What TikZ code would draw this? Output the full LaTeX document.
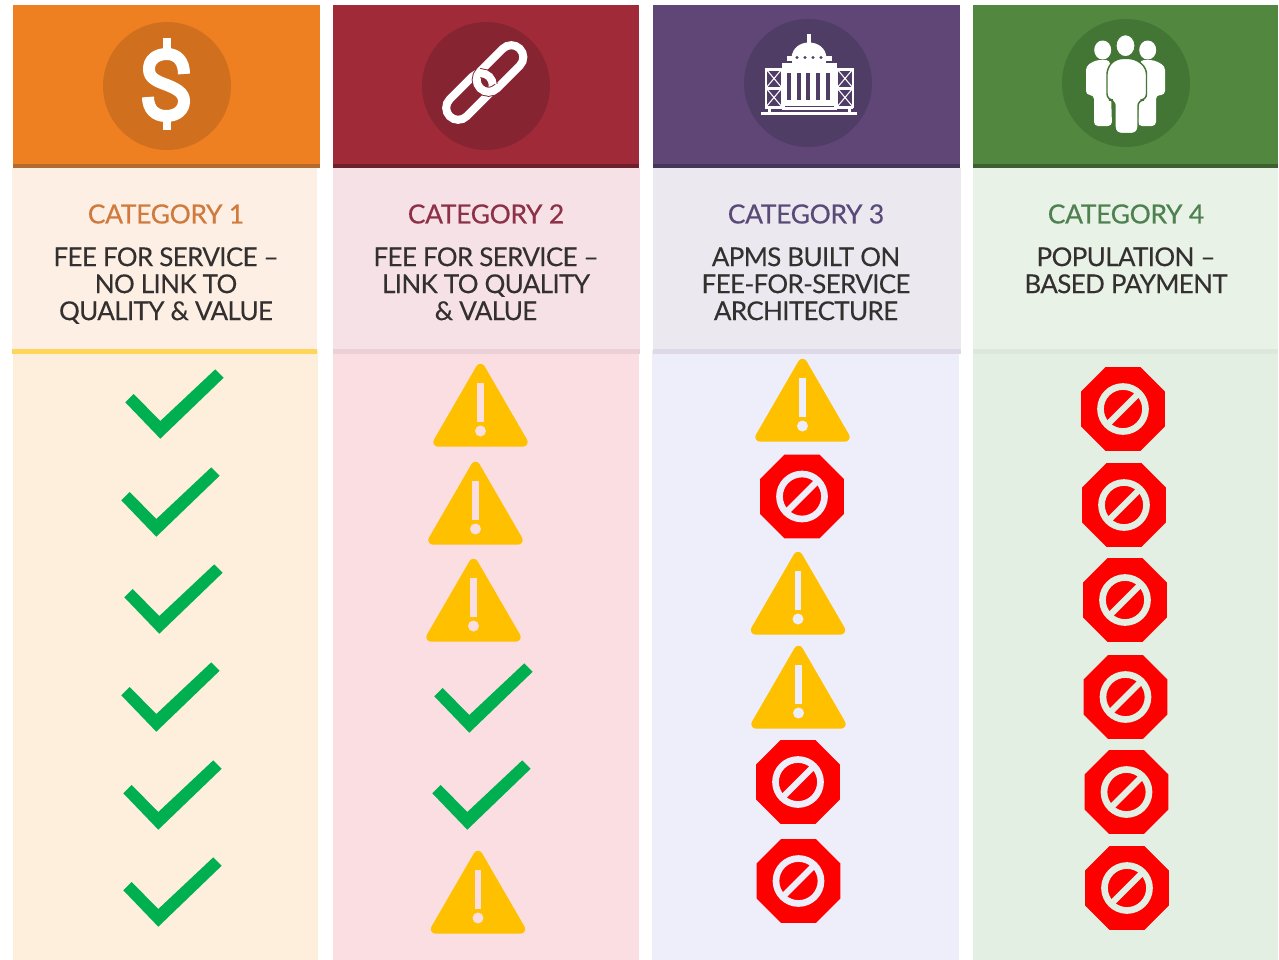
\documentclass[tikz,border=0pt]{standalone}
\usepackage{fontspec}
\setmainfont{Lato}
\definecolor{okgreen}{HTML}{00B050}
\definecolor{warnyel}{HTML}{FFC000}
\definecolor{bgA}{HTML}{FDEFDC}
\definecolor{bgB}{HTML}{FADEE2}
\definecolor{bgC}{HTML}{EEEEFB}
\definecolor{bgD}{HTML}{E2EFE2}
\definecolor{panA}{HTML}{FDEFE4}
\definecolor{panB}{HTML}{F6E2E6}
\definecolor{panC}{HTML}{EBE8EF}
\definecolor{panD}{HTML}{E8F2E6}
\definecolor{lineA}{HTML}{FFD55A}
\definecolor{lineB}{HTML}{EBD0D8}
\definecolor{lineC}{HTML}{DFD8E6}
\definecolor{lineD}{HTML}{DDE8DC}
\definecolor{mainA}{HTML}{EF8022}
\definecolor{mainB}{HTML}{A02A38}
\definecolor{mainC}{HTML}{5F4677}
\definecolor{mainD}{HTML}{52873F}
\definecolor{stripA}{HTML}{B46A2E}
\definecolor{stripB}{HTML}{6E1F2C}
\definecolor{stripC}{HTML}{43365A}
\definecolor{stripD}{HTML}{3C6030}
\definecolor{circA}{HTML}{D0701F}
\definecolor{circB}{HTML}{862431}
\definecolor{circC}{HTML}{503D66}
\definecolor{circD}{HTML}{437534}
\definecolor{titA}{HTML}{D07A3C}
\definecolor{titB}{HTML}{8E3148}
\definecolor{titC}{HTML}{5A4A78}
\definecolor{titD}{HTML}{4E8050}
\definecolor{txt}{HTML}{33302F}
\tikzset{
  x=0.75pt,y=-0.75pt,
  cattitle/.style={text=#1,font=\fontsize{19.8pt}{23pt}\selectfont\addfontfeature{LetterSpace=-1.2,FakeBold=0.5},anchor=center,inner sep=0pt},
  catdesc/.style={text=txt,font=\fontsize{19.5pt}{20.25pt}\selectfont\addfontfeature{LetterSpace=-2.5,FakeBold=0.15},align=center,anchor=north,inner sep=0pt},
  okmark/.style={fill=okgreen,draw=none},
  warnshape/.style={fill=warnyel,draw=warnyel,line width=7pt,line join=round},
  stopshape/.style={fill=red,draw=none},
  chainlink/.style={line width=6pt,rounded corners=9pt},
}
\newcommand{\okat}[2]{%
  \fill[okmark,shift={(#1,#2)}] (0.3,33.3)--(8.7,25)--(35.3,52)--(90.3,0.3)--(98.7,8.7)--(35.3,69.7)--cycle;}
\newcommand{\warnat}[3]{%
  \begin{scope}[shift={(#1,#2)}]
  \draw[warnshape] (0,5.5)--(42.5,79)--(-42.5,79)--cycle;
  \fill[#3] (-3.2,20) rectangle (3.2,59);
  \fill[#3] (0,68) circle[radius=5.5];
  \end{scope}}
\newcommand{\stopat}[3]{%
  \begin{scope}[shift={(#1,#2)}]
  \fill[stopshape] (-17.5,-41.8)--(17.5,-41.8)--(41.8,-17.5)--(41.8,17.5)--(17.5,41.8)--(-17.5,41.8)--(-41.8,17.5)--(-41.8,-17.5)--cycle;
  \draw[#3,line width=5pt] (0,0) circle[radius=22.5];
  \draw[#3,line width=4.6pt] (-16,16)--(16,-16);
  \end{scope}}
% letter, header left/right, circle centre, panel left/right, line left/right, body left/right
\newcommand{\catcolumn}[8]{%
  \fill[pan#1] (#5,168) rectangle (#6,352);
  \fill[bg#1] (#7,350) rectangle (#8,960);
  \fill[line#1] (#5,349) rectangle (#6,354);
  \fill[main#1] (#2,5) rectangle (#3,168);
  \fill[strip#1] (#2,164) rectangle (#3,168);
  \fill[circ#1] (#4) circle[radius=64];}
\begin{document}
\begin{tikzpicture}
\useasboundingbox (0,0) rectangle (1279,960);
\fill[white] (0,0) rectangle (1279,960);
% ---- columns
\catcolumn{A}{13}{320}{167,86}{12}{317}{13}{318}
\catcolumn{B}{333}{639}{486,86}{333}{640}{333}{639}
\catcolumn{C}{653}{960}{808,83}{653}{961}{652}{959}
\catcolumn{D}{973}{1278}{1126,83}{973}{1278}{973}{1278}
% ---- dollar icon
\draw[white,line width=9pt] (184,74) .. controls (184,61) and (177,54) .. (167,54)
  .. controls (156,54) and (149,60) .. (149,69)
  .. controls (149,78) and (156,81) .. (167,85)
  .. controls (177,89) and (184,93) .. (184,101)
  .. controls (184,110) and (177,116) .. (166,116)
  .. controls (155,116) and (148,109) .. (148,97);
\fill[white] (163,38) rectangle (171,50);
\fill[white] (163,119) rectangle (171,130);
% ---- chain icon
\begin{scope}[shift={(469.5,96.5)},rotate=45]
\draw[white,chainlink] (-28,-12) rectangle (28,12);
\end{scope}
\begin{scope}[shift={(500,68.5)},rotate=45]
\draw[circB,chainlink,line width=7.4pt] (-28,-12) rectangle (28,12);
\draw[white,chainlink] (-28,-12) rectangle (28,12);
\end{scope}
\begin{scope}
\clip (480,62) rectangle (512,83);
\begin{scope}[shift={(469.5,96.5)},rotate=45]
\draw[circB,chainlink,line width=7.4pt] (-28,-12) rectangle (28,12);
\draw[white,chainlink] (-28,-12) rectangle (28,12);
\end{scope}
\end{scope}
% ---- capitol icon
\fill[white] (807,34) rectangle (811,44);
\fill[white] (791.5,58) .. controls (792,48) and (800,42.5) .. (809,42.5) .. controls (818,42.5) and (826,48) .. (826.5,58) -- cycle;
\fill[white] (787,56) rectangle (832,60.5);
\fill[white] (792,60) rectangle (826,64);
\fill[white] (782,63) rectangle (837,110);
\fill[white] (765,68) rectangle (853,70.5);
\fill[white] (765,87) rectangle (853,89.5);
\fill[white] (765,106) rectangle (853,108.5);
\foreach \dx in {797,805,813,821} \fill[circC] (\dx,57.5) circle[radius=1.6];
\foreach \dx in {789,799,808,818,828} \fill[circC] (\dx-1.8,73) rectangle (\dx+1.8,100);
\fill[circC] (785,105.5) rectangle (834,106.5);
\foreach \ax/\bx in {766/782,837/853}{
  \draw[white,line width=1.1pt] (\ax,69) rectangle (\bx,88);
  \draw[white,line width=0.8pt] (\ax,69)--(\bx,88) (\ax,88)--(\bx,69);
  \draw[white,line width=1.1pt] (\ax,88) rectangle (\bx,107);
  \draw[white,line width=0.8pt] (\ax,88)--(\bx,107) (\ax,107)--(\bx,88);
}
\fill[white] (761,112) rectangle (857,114.5);
\fill[white] (768,108) rectangle (771,112);
\fill[white] (848,108) rectangle (851,112);
% ---- people icon
\fill[white] (1102.7,50) ellipse[x radius=8.5,y radius=9.5];
\fill[white] (1147.7,50) ellipse[x radius=8.5,y radius=9.5];
\fill[white,rounded corners=3pt] (1096,60)--(1110,60)--(1112,126)--(1094,126)--(1094,95)--(1086,95)--(1086,66)--cycle;
\fill[white,rounded corners=3pt] (1154,60)--(1140,60)--(1138,126)--(1156,126)--(1156,95)--(1165,95)--(1165,66)--cycle;
\filldraw[fill=white,draw=circD,line width=1.1pt,rounded corners=4.5pt] (1107,68)--(1116,58.5)--(1135,58.5)--(1146.5,68)--(1146.5,100)--(1138,100)--(1138,133.5)--(1115,133.5)--(1115,100)--(1107,100)--cycle;
\filldraw[fill=white,draw=circD,line width=0.8pt] (1125.5,45.7) ellipse[x radius=9.5,y radius=11];
% ---- headings
\node[cattitle=titA] (t1) at (166,214) {CATEGORY 1};
\node[cattitle=titB] (t2) at (486,214) {CATEGORY 2};
\node[cattitle=titC] (t3) at (806,214) {CATEGORY 3};
\node[cattitle=titD] (t4) at (1126,214) {CATEGORY 4};
\node[catdesc] (d1) at (166,247) {FEE FOR SERVICE –\\NO LINK TO\\QUALITY \& VALUE};
\node[catdesc] (d2) at (486,247) {FEE FOR SERVICE –\\LINK TO QUALITY\\\& VALUE};
\node[catdesc] (d3) at (806,247) {APMS BUILT ON\\FEE-FOR-SERVICE\\ARCHITECTURE};
\node[catdesc] (d4) at (1126,247) {POPULATION –\\BASED PAYMENT};
% ---- column 1
\okat{125}{369}\okat{121}{467}\okat{124}{564}\okat{121}{662}\okat{123}{760}\okat{123}{857}
% ---- column 2
\warnat{480.5}{363}{bgB}\warnat{475.5}{461}{bgB}\warnat{473.5}{558}{bgB}
\okat{434}{663}\okat{432}{760}
\warnat{478}{850}{bgB}
% ---- column 3
\warnat{802.5}{358}{bgC}\stopat{802}{496.5}{bgC}\warnat{798}{551}{bgC}\warnat{798.5}{645}{bgC}
\stopat{798}{782}{bgC}\stopat{798.5}{881}{bgC}
% ---- column 4
\stopat{1123}{409}{bgD}\stopat{1124}{505}{bgD}\stopat{1125}{600}{bgD}\stopat{1125.5}{697}{bgD}\stopat{1126.5}{792}{bgD}\stopat{1127}{888}{bgD}
\end{tikzpicture}
\end{document}
